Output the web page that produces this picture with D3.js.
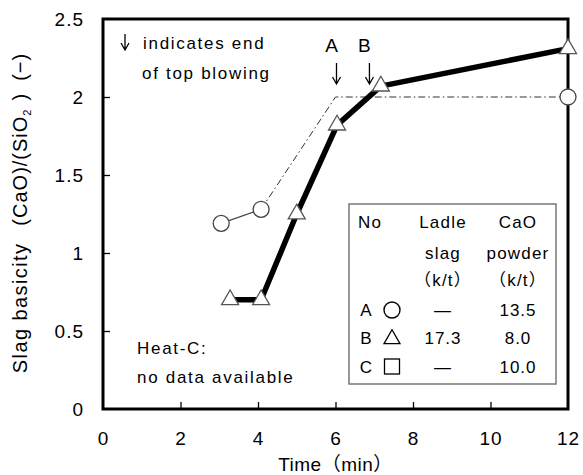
<!DOCTYPE html>
<html>
<head>
<meta charset="utf-8">
<script src="https://cdn.jsdelivr.net/npm/d3@7"></script>
<style>
  body { margin: 0; background: #fff; }
  svg { font-family: "Liberation Sans", "Noto Sans CJK JP", Arial, sans-serif; }
</style>
</head>
<body>
<svg id="chart"></svg>
<script>
// Heat A (circles)
const aTime = [3.05, 4.08, 12];
const aBasicity = [1.19, 1.28, 2.0];
// Heat A estimated path (dash-dot)
const aEstTime = [4.08, 6.0, 12];
const aEstBasicity = [1.28, 2.0, 2.0];
// Heat B (triangles)
const bTime = [3.28, 4.08, 5.0, 6.04, 7.17, 12];
const bBasicity = [0.70, 0.70, 1.25, 1.82, 2.07, 2.31];
// end of top blowing markers
const blowEndLabels = ["A", "B"];
const blowEndTime = [6.0, 6.85];

const xTicks = [0, 2, 4, 6, 8, 10, 12];
const yTicks = [0, 0.5, 1, 1.5, 2, 2.5];

const legendHeads = [["No", "Ladle", "CaO"], ["", "slag", "powder"], ["", "（k/t）", "（k/t）"]];
const legendNo = ["A", "B", "C"];
const legendLadle = ["—", "17.3", "—"];
const legendCaO = ["13.5", "8.0", "10.0"];

const W = 583, H = 475;
const margin = { top: 19, right: 15, bottom: 66, left: 103 };
const width = W - margin.left - margin.right;
const height = H - margin.top - margin.bottom;

const svg = d3.select("#chart").attr("width", W).attr("height", H);
const g = svg.append("g").attr("transform", `translate(${margin.left},${margin.top})`);

const x = d3.scaleLinear().domain([0, 12]).range([0, width]);
const y = d3.scaleLinear().domain([0, 2.5]).range([height, 0]);

// axes with inward ticks
const xAxis = g.append("g")
  .attr("transform", `translate(0,${height})`)
  .call(d3.axisBottom(x).tickValues(xTicks).tickSizeInner(-7).tickSizeOuter(0).tickPadding(23).tickFormat(d3.format("")));
const yAxis = g.append("g")
  .call(d3.axisLeft(y).tickValues(yTicks).tickSizeInner(-7).tickSizeOuter(0).tickPadding(19).tickFormat(d3.format("")));
[xAxis, yAxis].forEach(a => {
  a.select(".domain").remove();
  a.selectAll(".tick line").attr("stroke", "#000").attr("stroke-width", 1.3)
    .filter(d => d === 0 || d === 12 || d === 2.5).remove();
  a.selectAll(".tick text").attr("font-size", 19).attr("letter-spacing", 1).attr("fill", "#000");
});

// frame
g.append("rect")
  .attr("width", width).attr("height", height)
  .attr("fill", "none").attr("stroke", "#000").attr("stroke-width", 3);

// axis titles
svg.append("text")
  .attr("x", margin.left + width / 2).attr("y", 471)
  .attr("text-anchor", "middle").attr("font-size", 19).attr("letter-spacing", 0.5)
  .text("Time（min）");

const yl = svg.append("text")
  .attr("transform", `translate(27,213) rotate(-90)`)
  .attr("text-anchor", "middle").attr("font-size", 20);
yl.append("tspan").attr("letter-spacing", 1.4).text("Slag basicity");
yl.append("tspan").attr("dx", 17).attr("letter-spacing", 1).text("(CaO)/(SiO");
yl.append("tspan").attr("font-size", 11).attr("dy", 4).text("2");
yl.append("tspan").attr("dy", -4).attr("dx", 9).text(")");
yl.append("tspan").attr("dx", 13).attr("letter-spacing", 1).text("(\u2212)");

// dash-dot estimate for heat A
const line = d3.line().x(d => x(d[0])).y(d => y(d[1]));
g.append("path")
  .datum(aEstTime.map((t, i) => [t, aEstBasicity[i]]))
  .attr("fill", "none").attr("stroke", "#333").attr("stroke-width", 1)
  .attr("stroke-dasharray", "7,3,1.5,3")
  .attr("d", line);

// heat A solid segment
g.append("path")
  .datum(aTime.slice(0, 2).map((t, i) => [t, aBasicity[i]]))
  .attr("fill", "none").attr("stroke", "#444").attr("stroke-width", 1.3)
  .attr("d", line);

// heat B thick line
g.append("path")
  .datum(bTime.map((t, i) => [t, bBasicity[i]]))
  .attr("fill", "none").attr("stroke", "#000").attr("stroke-width", 5.5)
  .attr("stroke-linejoin", "round")
  .attr("d", line);

// markers
g.selectAll(".circ")
  .data(aTime.map((t, i) => [t, aBasicity[i]]))
  .enter().append("circle")
  .attr("cx", d => x(d[0])).attr("cy", d => y(d[1])).attr("r", 8)
  .attr("fill", "#fff").attr("stroke", "#444").attr("stroke-width", 1.3);

const tri = d3.symbol().type(d3.symbolTriangle).size(125);
g.selectAll(".tri")
  .data(bTime.map((t, i) => [t, bBasicity[i]]))
  .enter().append("path")
  .attr("transform", d => `translate(${x(d[0])},${y(d[1])})`)
  .attr("d", tri)
  .attr("fill", "#fff").attr("stroke", "#555").attr("stroke-width", 1.3);

// down arrow drawn as a path
function arrow(parent, cx, y0, y1) {
  parent.append("path")
    .attr("d", `M${cx},${y0}V${y1}M${cx - 4},${y1 - 7}L${cx},${y1}L${cx + 4},${y1 - 7}`)
    .attr("fill", "none").attr("stroke", "#000").attr("stroke-width", 1.3);
}

// end of top blowing arrows
blowEndTime.forEach((t, i) => {
  g.append("text").attr("x", x(t) - 4).attr("y", 33)
    .attr("text-anchor", "middle").attr("font-size", 19).text(blowEndLabels[i]);
  arrow(g, x(t) + 1, 44, 65);
});

// annotation
arrow(g, 22, 15, 31);
g.append("text").attr("x", 40).attr("y", 30).attr("font-size", 17).attr("letter-spacing", 1.7)
  .text("indicates end");
g.append("text").attr("x", 39).attr("y", 60).attr("font-size", 17).attr("letter-spacing", 1.7)
  .text("of top blowing");
g.append("text").attr("x", 34).attr("y", 335).attr("font-size", 17).attr("letter-spacing", 1.7).text("Heat-C:");
g.append("text").attr("x", 34).attr("y", 364).attr("font-size", 17).attr("letter-spacing", 1.7).text("no data available");

// legend box
const lg = g.append("g").attr("transform", `translate(${349 - margin.left},${204 - margin.top})`);
lg.append("rect").attr("width", 207).attr("height", 180)
  .attr("fill", "#fff").attr("stroke", "#777").attr("stroke-width", 1.5);
const colX = [21, 94, 169];
const headY = [24, 55, 82];
legendHeads.forEach((row, r) => row.forEach((s, c) => {
  lg.append("text").attr("x", colX[c]).attr("y", headY[r]).attr("text-anchor", "middle")
    .attr("font-size", 17).attr("letter-spacing", 1.2).text(s);
}));
const rowY = [112, 140, 169];
legendNo.forEach((n, i) => {
  lg.append("text").attr("x", 17).attr("y", rowY[i]).attr("text-anchor", "middle")
    .attr("font-size", 17).text(n);
  lg.append("text").attr("x", colX[1]).attr("y", rowY[i]).attr("text-anchor", "middle")
    .attr("font-size", 17).attr("letter-spacing", 1).text(legendLadle[i]);
  lg.append("text").attr("x", colX[2]).attr("y", rowY[i]).attr("text-anchor", "middle")
    .attr("font-size", 17).attr("letter-spacing", 1).text(legendCaO[i]);
});
// legend symbols
const sx = 43;
lg.append("circle").attr("cx", sx).attr("cy", rowY[0] - 6).attr("r", 8)
  .attr("fill", "none").attr("stroke", "#000").attr("stroke-width", 1.4);
lg.append("path").attr("transform", `translate(${sx},${rowY[1] - 5})`)
  .attr("d", d3.symbol().type(d3.symbolTriangle).size(110))
  .attr("fill", "none").attr("stroke", "#000").attr("stroke-width", 1.3);
lg.append("rect").attr("x", sx - 7.5).attr("y", rowY[2] - 14).attr("width", 15).attr("height", 15)
  .attr("fill", "none").attr("stroke", "#000").attr("stroke-width", 1.3);
</script>
</body>
</html>
